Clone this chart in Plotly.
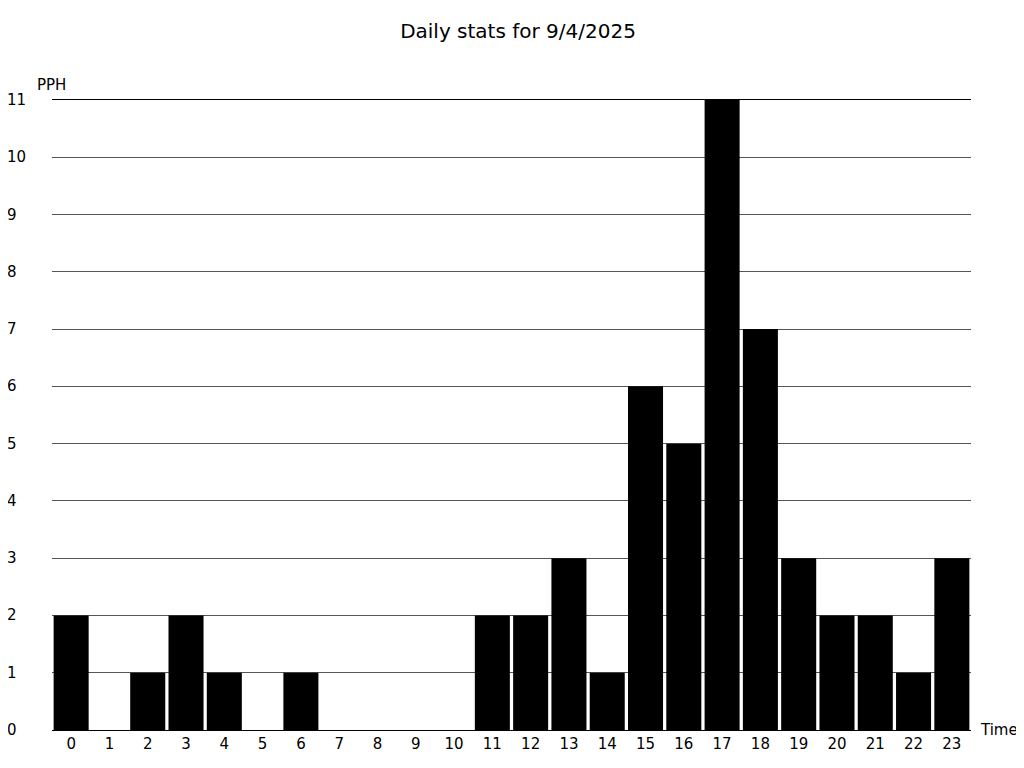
import plotly.graph_objects as go

hours = [str(h) for h in range(24)]
pph = [2, 0, 1, 2, 1, 0, 1, 0, 0, 0, 0, 2, 2, 3, 1, 6, 5, 11, 7, 3, 2, 2, 1, 3]
y_ticks = list(range(0, 12))
title_text = "Daily stats for 9/4/2025"
y_label = "PPH"
x_label = "Time"

FONT = "DejaVu Sans"

fig = go.Figure()
fig.add_trace(go.Bar(x=hours, y=pph, marker=dict(color="black", line=dict(width=0))))

annotations = []
for v in y_ticks:
    annotations.append(dict(x=-0.051, xref="paper", y=v, yref="y", text=str(v),
                            showarrow=False, xanchor="left", yanchor="middle",
                            font=dict(family=FONT, size=15, color="black")))
annotations.append(dict(x=-0.018, xref="paper", y=11, yref="y", yshift=15, text=y_label,
                        showarrow=False, xanchor="left", yanchor="middle",
                        font=dict(family=FONT, size=15, color="black")))
annotations.append(dict(x=1.008, xref="paper", y=0, yref="y", text=x_label,
                        showarrow=False, xanchor="left", yanchor="middle",
                        font=dict(family=FONT, size=15, color="black")))

fig.update_layout(
    width=1016, height=760,
    margin=dict(l=44, r=53, t=92, b=38),
    paper_bgcolor="white", plot_bgcolor="white",
    title=dict(text=title_text, x=0.502, xanchor="center", y=0.97, yanchor="middle",
               font=dict(family=FONT, size=20, color="black")),
    bargap=0.085,
    showlegend=False,
    xaxis=dict(type="category", showgrid=False, showline=True, mirror=True,
               linecolor="black", linewidth=1,
               ticks="", tickfont=dict(family=FONT, size=15, color="black")),
    yaxis=dict(range=[0, 11], tickvals=y_ticks, showticklabels=False, showgrid=True,
               gridcolor="#555555", gridwidth=1, zeroline=False, ticks=""),
    annotations=annotations,
)

fig.write_html("out.html")
